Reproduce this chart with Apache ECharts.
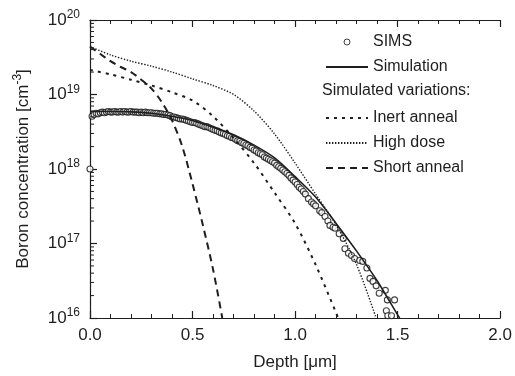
<!DOCTYPE html>
<html>
<head>
<meta charset="utf-8">
<script src="https://cdn.jsdelivr.net/npm/echarts@6/dist/echarts.min.js"></script>
<style>
  html, body { margin: 0; padding: 0; background: #fff; }
  #chart { width: 515px; height: 376px; }
</style>
</head>
<body>
<div id="chart"></div>
<script>
// SIMS measured profile: depth [um], boron concentration [cm^-3]
const simsDepth = [
  0.00, 0.01, 0.02, 0.03, 0.04, 0.05, 0.06, 0.07, 0.08, 0.09,
  0.10, 0.11, 0.12, 0.13, 0.14, 0.15, 0.16, 0.17, 0.18, 0.19,
  0.20, 0.21, 0.22, 0.23, 0.24, 0.25, 0.26, 0.27, 0.28, 0.29,
  0.30, 0.31, 0.32, 0.33, 0.34, 0.35, 0.36, 0.37, 0.38, 0.39,
  0.40, 0.41, 0.42, 0.43, 0.44, 0.45, 0.46, 0.47, 0.48, 0.49,
  0.50, 0.51, 0.52, 0.53, 0.54, 0.55, 0.56, 0.57, 0.58, 0.59,
  0.60, 0.61, 0.62, 0.63, 0.64, 0.65, 0.66, 0.67, 0.68, 0.69,
  0.70, 0.71, 0.72, 0.73, 0.74, 0.75, 0.76, 0.77, 0.78, 0.79,
  0.80, 0.81, 0.82, 0.83, 0.84, 0.85, 0.86, 0.87, 0.88, 0.89,
  0.90, 0.91, 0.92, 0.93, 0.94, 0.95, 0.96, 0.97, 0.98, 0.99,
  1.00, 1.01, 1.02, 1.03, 1.04, 1.05, 1.065, 1.08, 1.09, 1.10,
  1.12, 1.13, 1.146, 1.16, 1.17, 1.185, 1.195, 1.215, 1.235, 1.243,
  1.26, 1.275, 1.29, 1.315, 1.33, 1.35, 1.365, 1.38, 1.395, 1.41,
  1.44, 1.45, 1.485, 1.445, 1.452, 1.47
];
const simsConc = [
  1.0e18, 5.1e18, 5.4e18, 5.6e18, 5.5e18, 5.7e18, 5.8e18, 5.7e18, 5.8e18, 5.9e18,
  5.8e18, 5.8e18, 5.9e18, 5.8e18, 5.8e18, 5.9e18, 5.8e18, 5.9e18, 5.8e18, 5.8e18,
  5.9e18, 5.8e18, 5.8e18, 5.8e18, 5.7e18, 5.8e18, 5.7e18, 5.8e18, 5.7e18, 5.7e18,
  5.7e18, 5.6e18, 5.6e18, 5.6e18, 5.5e18, 5.5e18, 5.4e18, 5.4e18, 5.3e18, 5.2e18,
  5.0e18, 5.0e18, 4.9e18, 4.8e18, 4.7e18, 4.7e18, 4.6e18, 4.5e18, 4.4e18, 4.3e18,
  4.2e18, 4.2e18, 4.1e18, 4.0e18, 3.9e18, 3.8e18, 3.7e18, 3.7e18, 3.6e18, 3.5e18,
  3.4e18, 3.3e18, 3.25e18, 3.15e18, 3.05e18, 3.0e18, 2.9e18, 2.8e18, 2.75e18, 2.65e18,
  2.6e18, 2.5e18, 2.4e18, 2.35e18, 2.25e18, 2.2e18, 2.1e18, 2.05e18, 1.95e18, 1.9e18,
  1.8e18, 1.75e18, 1.65e18, 1.6e18, 1.55e18, 1.45e18, 1.4e18, 1.35e18, 1.3e18, 1.25e18,
  1.2e18, 1.12e18, 1.07e18, 1.02e18, 9.7e17, 9.2e17, 8.7e17, 8.2e17, 7.6e17, 7.1e17,
  6.7e17, 6.2e17, 5.7e17, 5.4e17, 5.0e17, 4.6e17, 4.0e17, 3.6e17, 3.4e17, 3.2e17,
  2.75e17, 2.6e17, 2.3e17, 2.0e17, 1.75e17, 1.65e17, 1.6e17, 1.35e17, 1.17e17, 8.5e16,
  7.4e16, 6.9e16, 6.3e16, 5.9e16, 5.75e16, 4.7e16, 3.4e16, 3.1e16, 2.7e16, 2.15e16,
  2.35e16, 1.75e16, 1.75e16, 1.25e16, 1.07e16, 1.07e16
];

// Simulation (solid)
const simDepth = [0, 0.1, 0.2, 0.3, 0.4, 0.5, 0.6, 0.7, 0.8, 0.9, 1.0, 1.1, 1.2, 1.3, 1.4, 1.5, 1.51];
const simConc  = [5.9e18, 5.9e18, 5.85e18, 5.6e18, 5.1e18, 4.47e18, 3.63e18, 2.88e18, 2.09e18, 1.41e18,
                  7.9e17, 4.2e17, 1.86e17, 7.9e16, 3.16e16, 1.1e16, 1.0e16];

// Inert anneal (short dashes)
const inertDepth = [0, 0.1, 0.2, 0.3, 0.4, 0.5, 0.6, 0.7, 0.8, 0.9, 1.0, 1.1, 1.2, 1.21];
const inertConc  = [2.14e19, 1.86e19, 1.58e19, 1.32e19, 1.07e19, 8.3e18, 5.1e18, 2.6e18, 1.2e18, 4.8e17,
                    1.86e17, 5.2e16, 1.17e16, 1.0e16];

// High dose (fine dots)
const highDepth = [0, 0.1, 0.2, 0.3, 0.4, 0.5, 0.6, 0.7, 0.8, 0.9, 1.0, 1.1, 1.2, 1.3, 1.395];
const highConc  = [4.4e19, 3.4e19, 2.8e19, 2.4e19, 2.0e19, 1.62e19, 1.32e19, 1.0e19, 6.0e18, 2.95e18,
                   1.2e18, 4.6e17, 1.78e17, 5.2e16, 1.0e16];

// Short anneal (long dashes)
const shortDepth = [0, 0.05, 0.1, 0.15, 0.2, 0.25, 0.3, 0.35, 0.4, 0.45, 0.5, 0.55, 0.6, 0.645];
const shortConc  = [4.4e19, 3.5e19, 2.8e19, 2.34e19, 2.0e19, 1.58e19, 1.2e19, 7.9e18, 4.5e18, 2.0e18,
                    6.3e17, 1.78e17, 4.5e16, 1.0e16];

// log-axis minor tick values (2..9 per decade)
const minorTickValues = [];
[1e16, 1e17, 1e18, 1e19].forEach(function (dec) {
  [2, 3, 4, 5, 6, 7, 8, 9].forEach(function (m) { minorTickValues.push(m * dec); });
});

const pair = (xs, ys) => xs.map((x, i) => [x, ys[i]]);

const FONT = "'Liberation Sans', Arial, Helvetica, sans-serif";
const INK = '#1e1e1e';

const chart = echarts.init(document.getElementById('chart'), null, { renderer: 'canvas' });

const xAxisCommon = {
  type: 'value',
  min: 0,
  max: 2.0,
  interval: 0.5,
  axisLine: { show: true, onZero: false, lineStyle: { color: INK, width: 1.2 } },
  axisTick: { show: true, inside: true, length: 7, lineStyle: { color: INK, width: 1.2 } },
  minorTick: { show: true, splitNumber: 5, length: 4, lineStyle: { color: INK, width: 1 } },
  splitLine: { show: false },
  minorSplitLine: { show: false }
};

const legendText = { fontSize: 16, color: INK, fontFamily: FONT, lineHeight: 18 };
const noDot = { opacity: 0 };

const option = {
  animation: false,
  backgroundColor: '#fff',
  textStyle: { fontFamily: FONT },
  grid: { left: 90, top: 20, width: 413, height: 300, containLabel: false },
  xAxis: [
    Object.assign({}, xAxisCommon, {
      position: 'bottom',
      name: 'Depth [\u03bcm]',
      nameLocation: 'middle',
      nameGap: 36,
      nameTextStyle: { fontSize: 17, color: INK, fontFamily: FONT },
      axisLabel: {
        margin: 9, fontSize: 17, color: INK, fontFamily: FONT,
        formatter: v => v.toFixed(1)
      }
    }),
    Object.assign({}, xAxisCommon, {
      position: 'top',
      axisLabel: { show: false }
    })
  ],
  yAxis: {
    type: 'log',
    logBase: 10,
    min: 1e16,
    max: 1e20,
    name: '{a|Boron concentration [cm}{s|-3}{a|]}',
    nameLocation: 'middle',
    nameGap: 56,
    nameRotate: 90,
    nameTextStyle: {
      rich: {
        a: { fontSize: 17, color: INK, fontFamily: FONT },
        s: { fontSize: 12, color: INK, fontFamily: FONT, padding: [0, 0, 10, 0] }
      }
    },
    axisLine: { show: true, onZero: false, lineStyle: { color: INK, width: 1.2 } },
    axisTick: { show: true, inside: true, length: 7, lineStyle: { color: INK, width: 1.2 } },
    splitLine: { show: false },
    axisLabel: {
      margin: 10,
      formatter: function (v) {
        return '{b|10}{s|' + Math.round(Math.log10(v)) + '}';
      },
      rich: {
        b: { fontSize: 17, color: INK, fontFamily: FONT },
        s: { fontSize: 12, color: INK, fontFamily: FONT, padding: [0, 0, 10, 0] }
      }
    }
  },
  legend: [
    {
      data: [
        { name: 'SIMS', itemStyle: { color: '#fff', borderColor: '#111', borderWidth: 1 } },
        { name: 'Simulation', itemStyle: noDot }
      ],
      orient: 'vertical',
      left: 320,
      top: 28,
      itemWidth: 42,
      itemHeight: 6,
      itemGap: 7,
      selectedMode: false,
      textStyle: legendText
    },
    {
      data: [
        { name: 'Inert anneal', itemStyle: noDot },
        { name: 'High dose', itemStyle: noDot },
        { name: 'Short anneal', itemStyle: noDot }
      ],
      orient: 'vertical',
      left: 320,
      top: 104,
      itemWidth: 42,
      itemHeight: 6,
      itemGap: 7,
      selectedMode: false,
      textStyle: legendText
    }
  ],
  graphic: [
    {
      type: 'text',
      left: 322,
      top: 83,
      style: { text: 'Simulated variations:', font: '16px ' + FONT, fill: INK }
    }
  ],
  series: [
    {
      name: 'SIMS',
      type: 'scatter',
      data: pair(simsDepth, simsConc),
      symbol: 'circle',
      symbolSize: 6,
      itemStyle: { color: '#fff', borderColor: '#111', borderWidth: 1.1 },
      z: 3
    },
    {
      name: 'Simulation',
      type: 'line',
      data: pair(simDepth, simConc),
      smooth: 0.3,
      symbol: 'none',
      itemStyle: { color: INK },
      lineStyle: { color: INK, width: 1.6, type: 'solid' },
      z: 4
    },
    {
      name: 'Inert anneal',
      type: 'line',
      data: pair(inertDepth, inertConc),
      smooth: 0.3,
      symbol: 'none',
      itemStyle: { color: INK },
      lineStyle: { color: INK, width: 2, type: [3, 5] },
      z: 4
    },
    {
      name: 'High dose',
      type: 'line',
      data: pair(highDepth, highConc),
      smooth: 0.3,
      symbol: 'none',
      itemStyle: { color: INK },
      lineStyle: { color: INK, width: 1.4, type: [1.4, 1.6] },
      z: 4
    },
    {
      name: 'Short anneal',
      type: 'line',
      data: pair(shortDepth, shortConc),
      smooth: 0.3,
      symbol: 'none',
      itemStyle: { color: INK },
      lineStyle: { color: INK, width: 2, type: [7, 5] },
      z: 4
    },
    {
      // minor log ticks on the left axis
      type: 'custom',
      silent: true,
      clip: false,
      data: minorTickValues.map(v => [0, v]),
      renderItem: function (params, api) {
        const p = api.coord([0, api.value(1)]);
        return {
          type: 'line',
          shape: { x1: p[0], y1: p[1], x2: p[0] + 4, y2: p[1] },
          style: { stroke: INK, lineWidth: 1 }
        };
      },
      z: 5
    }
  ]
};

chart.setOption(option);
</script>
</body>
</html>
